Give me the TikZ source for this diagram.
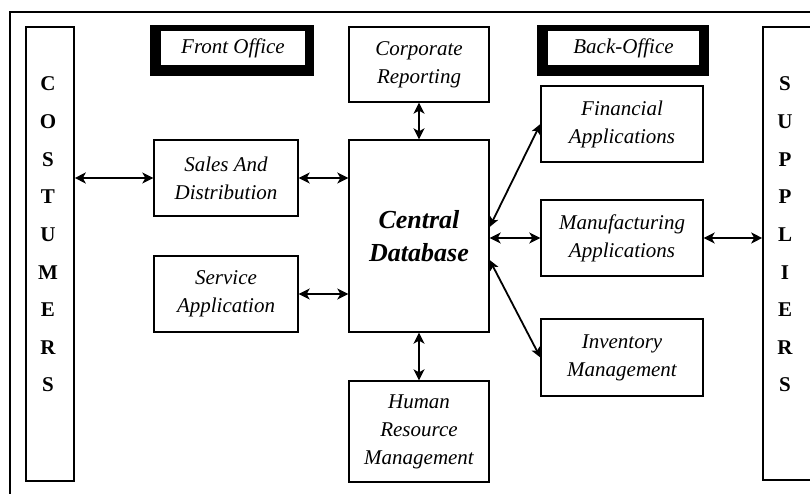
\documentclass[tikz,border=0pt]{standalone}
\usepackage{fontspec}
\setmainfont{Liberation Serif}
\usetikzlibrary{arrows.meta,calc}
\begin{document}
\begin{tikzpicture}[x=1pt,y=-1pt,
  box/.style={draw,line width=1.3pt,fill=white,inner sep=0pt,align=center,
    font=\itshape\fontsize{21}{28}\selectfont},
  sidebox/.style={draw,line width=1.6pt,fill=white,inner sep=0pt},
  titlebox/.style={fill=white,inner sep=0pt,align=center,
    font=\itshape\fontsize{21}{28}\selectfont},
  letter/.style={inner sep=0pt,anchor=base,font=\bfseries\fontsize{21}{25}\selectfont},
  biarrow/.style={{Stealth[length=11pt,width=11pt,inset=3pt]}-{Stealth[length=11pt,width=11pt,inset=3pt]},line width=2.5pt},
  diagarrow/.style={{Stealth[length=10pt,width=9pt,inset=2.5pt]}-{Stealth[length=10pt,width=9pt,inset=2.5pt]},line width=1.8pt}]
\clip (0,0) rectangle (810,494);
\fill[white] (0,0) rectangle (810,494);
% outer frame
\draw[line width=1.3pt] (10,12) rectangle (840,520);
% side boxes
\node[sidebox,minimum width=48pt,minimum height=454pt] (cust) at (50,254) {};
\node[sidebox,minimum width=49pt,minimum height=453pt] (supp) at (787.5,253.5) {};
\foreach \l [count=\i] in {C,O,S,T,U,M,E,R,S}
  \node[letter] (c\i) at (48,{91+37.6*(\i-1)}) {\l};
\foreach \l [count=\i] in {S,U,P,P,L,I,E,R,S}
  \node[letter] (s\i) at (785,{91+37.6*(\i-1)}) {\l};
% title boxes
\fill (150,25) rectangle (314,76);
\node[titlebox,minimum width=144pt,minimum height=34pt] (fo) at (233,48.5) {Front Office};
\fill (537,25) rectangle (709,76);
\node[titlebox,minimum width=151pt,minimum height=34pt] (bo) at (623.5,48.5) {Back-Office};
% boxes
\node[box,minimum width=140pt,minimum height=75pt] (corp) at (419,64.5) {Corporate\\Reporting};
\node[box,minimum width=140pt,minimum height=192pt,font=\bfseries\itshape\fontsize{26}{33}\selectfont] (cdb) at (419,236) {Central\\Database};
\node[box,minimum width=144pt,minimum height=76pt] (sales) at (226,178) {Sales And\\Distribution};
\node[box,minimum width=144pt,minimum height=76pt] (serv) at (226,294) {Service\\Application};
\node[box,minimum width=140pt,minimum height=101pt] (hr) at (419,431.5) {Human\\Resource\\Management};
\node[box,minimum width=162pt,minimum height=76pt] (fin) at (622,124) {Financial\\Applications};
\node[box,minimum width=162pt,minimum height=76pt] (mfg) at (622,238) {Manufacturing\\Applications};
\node[box,minimum width=162pt,minimum height=77pt] (inv) at (622,357.5) {Inventory\\Management};
% connectors
\draw[biarrow] (sales.west -| cust.east) -- (sales.west);
\draw[biarrow] (sales.east) -- (sales.east -| cdb.west);
\draw[biarrow] (serv.east) -- (serv.east -| cdb.west);
\draw[biarrow] (corp.south) -- (cdb.north);
\draw[biarrow] (cdb.south) -- (hr.north);
\draw[biarrow] (mfg.west -| cdb.east) -- (mfg.west);
\draw[biarrow] (mfg.east) -- (mfg.east -| supp.west);
\draw[diagarrow] ([yshift=9pt]cdb.east) -- (fin.west);
\draw[diagarrow] ([yshift=-24pt]cdb.east) -- (inv.west);
\end{tikzpicture}
\end{document}
